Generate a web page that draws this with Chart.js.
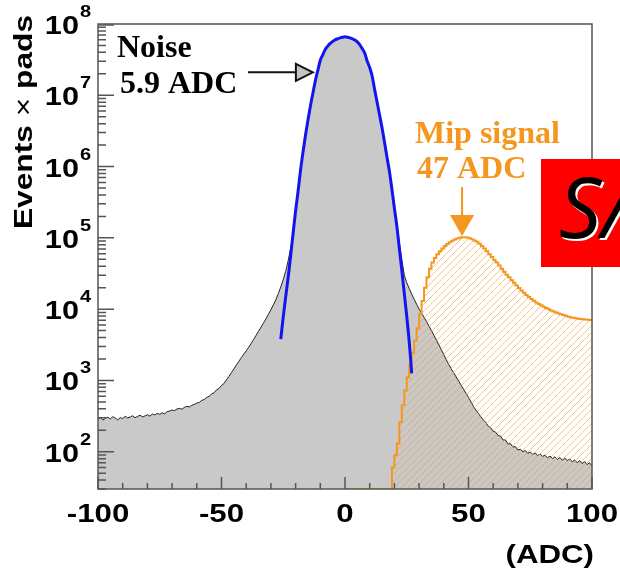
<!DOCTYPE html>
<html>
<head>
<meta charset="utf-8">
<script src="https://cdn.jsdelivr.net/npm/chart.js@4.4.1/dist/chart.umd.min.js"></script>
<style>
  html, body { margin: 0; padding: 0; background: #fff; }
  canvas { display: block; }
</style>
</head>
<body>
<canvas id="adcChart" width="620" height="577"></canvas>
<script>
// Rangos de los ejes
const X_MIN = -100, X_MAX = 100;
const Y_MIN = 30, Y_MAX = 1e8;

// Marcas del eje X (ADC)
const xTicksMajor = [-100, -50, 0, 50, 100];
const xTicksMinor = [-90, -80, -70, -60, -40, -30, -20, -10, 10, 20, 30, 40, 60, 70, 80, 90];
// Décadas del eje Y (10^k)
const yDecades = [2, 3, 4, 5, 6, 7, 8];

// Ruido: un bin por ADC, de -100 a 100
const noiseStart = -100;
const noiseCounts = [
  285, 300, 278, 295, 305, 288, 310, 296, 280, 302,
  292, 315, 298, 306, 320, 300, 312, 325, 308, 318,
  330, 315, 338, 328, 345, 335, 352, 340, 365, 372,
  385, 378, 398, 405, 395, 420, 432, 425, 448, 462,
  480, 492, 525, 540, 578, 600, 648, 672, 738, 770,
  850, 905, 1020, 1140, 1280, 1450, 1640, 1850, 2080, 2330,
  2600, 2920, 3300, 3750, 4300, 4900, 5600, 6400, 7300, 8500,
  9800, 11500, 13500, 16500, 20500, 26000, 34000, 48000, 72000, 1.15e5,
  2.3e5, 4.5e5, 8.9e5, 1.6e6, 2.75e6, 4.5e6, 7.1e6, 1.07e7, 1.6e7, 2.24e7,
  3.1e7, 3.7e7, 4.4e7, 4.9e7, 5.35e7, 5.7e7, 6.0e7, 6.2e7, 6.38e7, 6.52e7,
  6.6e7,
  6.52e7, 6.38e7, 6.2e7, 5.95e7, 5.6e7, 5.1e7, 4.5e7, 3.9e7, 3.0e7, 2.45e7,
  1.85e7, 1.2e7, 8.0e6, 5.3e6, 3.5e6, 2.2e6, 1.35e6, 8.5e5, 4.8e5, 2.6e5,
  1.5e5, 85000, 50000, 30000, 23500, 19500, 16200, 13800, 11700, 10000,
  8800, 7700, 6700, 5800, 5000, 4300, 3700, 3150, 2700, 2300,
  1950, 1680, 1450, 1280, 1120, 980, 860, 750, 660, 580,
  500, 430, 385, 345, 310, 278, 258, 228, 216, 194,
  188, 168, 166, 146, 146, 128, 130, 116, 118, 106,
  108, 100, 104, 95, 99, 92, 96, 88, 93, 86,
  90, 82, 87, 80, 85, 78, 83, 76, 81, 75,
  79, 72, 77, 70, 75, 68, 73, 66, 70, 63
];

// Señal MIP: bins de 1 ADC desde 0 (0 = bin vacío)
const mipStart = 0;
const mipCounts = [
  0, 0, 0, 0, 0, 0, 0, 0, 0, 0,
  0, 0, 0, 0, 0, 0, 0, 0, 0, 60,
  90, 130, 260, 450, 720, 1100, 1650, 2450, 3600, 5400,
  8500, 13000, 20000, 28000, 37000, 45000, 52000, 59000, 65000, 71000,
  77000, 82000, 87000, 91000, 95000, 98000, 1.0e5, 1.02e5, 1.02e5, 1.01e5,
  99000, 96000, 92000, 88000, 83000, 77000, 71000, 65000, 59000, 54000,
  49000, 45000, 41000, 37000, 33500, 30500, 28000, 25500, 23500, 21500,
  19800, 18300, 17000, 15800, 14800, 13900, 13100, 12400, 11800, 11300,
  10800, 10400, 10000, 9600, 9300, 9000, 8700, 8450, 8250, 8050,
  7850, 7700, 7550, 7450, 7350, 7250, 7200, 7150, 7100, 7050
];

// Ajuste del pico de ruido, un punto por ADC desde -26
const fitStart = -26;
const fitValues = [
  3800, 7800, 15000, 28000, 56000, 1.17e5, 2.4e5, 4.5e5, 8.9e5, 1.6e6,
  2.75e6, 4.5e6, 7.1e6, 1.07e7, 1.6e7, 2.24e7, 3.1e7, 3.7e7, 4.4e7, 4.9e7,
  5.35e7, 5.7e7, 6.0e7, 6.2e7, 6.38e7, 6.52e7, 6.6e7, 6.52e7, 6.38e7, 6.2e7,
  5.95e7, 5.6e7, 5.1e7, 4.5e7, 3.9e7, 3.0e7, 2.45e7, 1.85e7, 1.2e7, 8.0e6,
  5.3e6, 3.5e6, 2.2e6, 1.35e6, 8.5e5, 4.8e5, 2.6e5, 1.45e5, 71000, 35000,
  16600, 7900, 3500, 1260
];

const ORANGE = '#f5961e';
const SANS = '"Liberation Sans", Arial, sans-serif';
const SERIF = '"Liberation Serif", "Times New Roman", serif';

// Texto estirado en horizontal (la fuente del original es más ancha)
function drawText(ctx, text, x, y, font, color, align, sx, rot) {
    ctx.save();
    ctx.font = font;
    ctx.fillStyle = color;
    ctx.textAlign = align;
    ctx.textBaseline = 'alphabetic';
    ctx.translate(x, y);
    if (rot) ctx.rotate(rot);
    ctx.scale(sx, 1);
    ctx.fillText(text, 0, 0);
    ctx.restore();
}

// Patrón rayado "/" para la señal
function makeHatch(ctx) {
    const c = document.createElement('canvas');
    c.width = 7; c.height = 7;
    const g = c.getContext('2d');
    g.strokeStyle = 'rgba(242,150,40,0.55)';
    g.lineWidth = 1;
    g.beginPath();
    g.moveTo(0, 7); g.lineTo(7, 0);
    g.moveTo(-1, 1); g.lineTo(1, -1);
    g.moveTo(6, 8); g.lineTo(8, 6);
    g.stroke();
    return ctx.createPattern(c, 'repeat');
}

// Ejes estilo ROOT: marco, marcas hacia dentro y etiquetas
const rootAxes = {
    id: 'rootAxes',
    afterDatasetsDraw(chart) {
        const { ctx, chartArea: a, scales: { x, y } } = chart;
        ctx.save();
        ctx.strokeStyle = '#555';
        ctx.lineWidth = 1.5;

        // Marcas del eje Y
        ctx.beginPath();
        yDecades.forEach(k => {
            for (let m = 1; m <= 9; m++) {
                const v = m * Math.pow(10, k - 1);
                if (v < Y_MIN || v > Y_MAX) continue;
                const py = y.getPixelForValue(v);
                const len = m === 1 ? 16 : 8;
                ctx.moveTo(a.left, py);
                ctx.lineTo(a.left + len, py);
            }
        });
        const top = y.getPixelForValue(Y_MAX);
        ctx.moveTo(a.left, top + 1); ctx.lineTo(a.left + 16, top + 1);

        // Marcas del eje X
        xTicksMajor.forEach(v => {
            const px = x.getPixelForValue(v);
            ctx.moveTo(px, a.bottom); ctx.lineTo(px, a.bottom - 12);
        });
        xTicksMinor.forEach(v => {
            const px = x.getPixelForValue(v);
            ctx.moveTo(px, a.bottom); ctx.lineTo(px, a.bottom - 6);
        });
        ctx.stroke();

        // Marco
        ctx.strokeStyle = '#555';
        ctx.lineWidth = 1.5;
        ctx.strokeRect(a.left, a.top, a.right - a.left, a.bottom - a.top);
        ctx.restore();

        // Etiquetas X
        xTicksMajor.forEach(v => {
            drawText(ctx, String(v), x.getPixelForValue(v), a.bottom + 33,
                'bold 25px ' + SANS, '#000', 'center', 1.25);
        });
        drawText(ctx, '(ADC)', a.right + 2, a.bottom + 74, 'bold 25px ' + SANS, '#000', 'right', 1.25);

        // Etiquetas Y: 10 con exponente
        yDecades.forEach(k => {
            const py = y.getPixelForValue(Math.pow(10, k));
            drawText(ctx, '10', a.left - 19, py + 10, 'bold 26px ' + SANS, '#000', 'right', 1.18);
            drawText(ctx, String(k), a.left - 18, py - 7, 'bold 17px ' + SANS, '#000', 'left', 1.18);
        });

        // Título del eje Y (el signo × va en trazo fino)
        ctx.save();
        ctx.translate(32, 122);
        ctx.rotate(-Math.PI / 2);
        ctx.scale(1.22, 1);
        ctx.fillStyle = '#000';
        ctx.textBaseline = 'alphabetic';
        const fb = 'bold 26px ' + SANS, fn = '26px ' + SANS;
        ctx.font = fb;
        const w1 = ctx.measureText('Events ').width;
        const w3 = ctx.measureText(' pads').width;
        ctx.font = fn;
        const w2 = ctx.measureText('\u00d7').width;
        let cx = -(w1 + w2 + w3) / 2;
        ctx.font = fb; ctx.fillText('Events ', cx, 0); cx += w1;
        ctx.font = fn; ctx.fillText('\u00d7', cx, 0); cx += w2;
        ctx.font = fb; ctx.fillText(' pads', cx, 0);
        ctx.restore();
    },
    afterDraw(chart) {
        const { ctx, scales: { x, y } } = chart;

        // Anotación del ruido con flecha gris
        drawText(ctx, 'Noise', 117, 57, 'bold 32px ' + SERIF, '#000', 'left', 1);
        drawText(ctx, '5.9 ADC', 120, 93, 'bold 32px ' + SERIF, '#000', 'left', 1);
        const tx = x.getPixelForValue(-13), ty = y.getPixelForValue(2.1e7);
        ctx.save();
        ctx.strokeStyle = '#111';
        ctx.lineWidth = 2;
        ctx.beginPath();
        ctx.moveTo(248, ty); ctx.lineTo(tx - 17, ty);
        ctx.stroke();
        ctx.beginPath();
        ctx.moveTo(tx, ty); ctx.lineTo(tx - 17, ty - 8.5); ctx.lineTo(tx - 17, ty + 8.5); ctx.closePath();
        ctx.fillStyle = '#c4c4c4';
        ctx.fill();
        ctx.stroke();
        ctx.restore();

        // Anotación de la señal MIP con flecha naranja
        drawText(ctx, 'Mip signal', 415, 143, 'bold 32px ' + SERIF, ORANGE, 'left', 1);
        drawText(ctx, '47 ADC', 417, 178, 'bold 32px ' + SERIF, ORANGE, 'left', 1);
        const mx = x.getPixelForValue(47.4), my = y.getPixelForValue(1.06e5);
        ctx.save();
        ctx.strokeStyle = ORANGE;
        ctx.fillStyle = ORANGE;
        ctx.lineWidth = 2;
        ctx.beginPath();
        ctx.moveTo(mx, 187); ctx.lineTo(mx, my - 18);
        ctx.stroke();
        ctx.beginPath();
        ctx.moveTo(mx, my); ctx.lineTo(mx - 12, my - 21); ctx.lineTo(mx + 12, my - 21); ctx.closePath();
        ctx.fill();
        ctx.restore();

        // Recuadro rojo "S/"
        ctx.save();
        ctx.fillStyle = '#ff0000';
        ctx.fillRect(541, 159, 79, 108);
        ctx.font = 'italic 84px "Open Sans", "DejaVu Sans", sans-serif';
        ctx.textBaseline = 'alphabetic';
        ctx.fillStyle = '#fff';
        ctx.fillText('S/', 561, 240);
        ctx.fillStyle = '#000';
        ctx.fillText('S/', 559, 238);
        ctx.restore();
    }
};

document.addEventListener('DOMContentLoaded', () => {
    const ctx = document.getElementById('adcChart');
    const c2d = ctx.getContext('2d');

    const noiseData = noiseCounts.map((v, i) => ({ x: noiseStart + i, y: v }));
    // Los bins vacíos se dibujan sobre el borde inferior, como en ROOT
    const mipData = mipCounts.map((v, i) => ({ x: mipStart + i, y: v > 0 ? v : Y_MIN }));
    mipData.push({ x: mipStart + mipCounts.length, y: mipCounts[mipCounts.length - 1] });
    const fitData = fitValues.map((v, i) => ({ x: fitStart + i, y: v }));

    new Chart(ctx, {
        type: 'line',
        data: {
            datasets: [
                {
                    label: 'Fit',
                    data: fitData,
                    borderColor: '#1414f0',
                    borderWidth: 3,
                    pointRadius: 0,
                    fill: false,
                    cubicInterpolationMode: 'monotone',
                    order: 0
                },
                {
                    label: 'Mip signal',
                    data: mipData,
                    borderColor: ORANGE,
                    borderWidth: 2,
                    backgroundColor: makeHatch(c2d),
                    pointRadius: 0,
                    stepped: true,
                    fill: 'start',
                    order: 1
                },
                {
                    label: 'Noise',
                    data: noiseData,
                    borderColor: '#222',
                    borderWidth: 1,
                    backgroundColor: '#c9c9c9',
                    pointRadius: 0,
                    tension: 0,
                    fill: 'start',
                    order: 2
                }
            ]
        },
        options: {
            responsive: false,
            animation: false,
            layout: { padding: { left: 98, right: 28, top: 24, bottom: 88 } },
            scales: {
                x: { type: 'linear', min: X_MIN, max: X_MAX, display: false },
                y: { type: 'logarithmic', min: Y_MIN, max: Y_MAX, display: false }
            },
            plugins: {
                legend: { display: false },
                tooltip: { enabled: false }
            }
        },
        plugins: [rootAxes]
    });
});
</script>
</body>
</html>
